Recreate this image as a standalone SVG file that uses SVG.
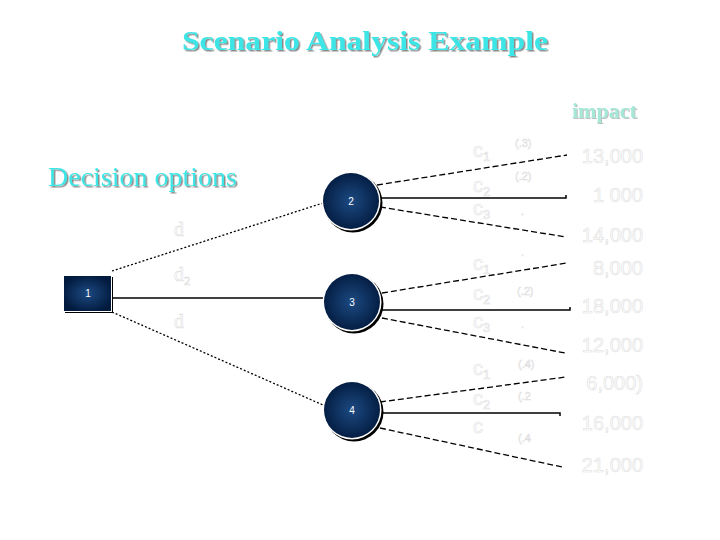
<svg xmlns="http://www.w3.org/2000/svg" width="720" height="540" viewBox="0 0 720 540">
<defs>
<radialGradient id="navy" cx="50%" cy="50%" r="55%">
<stop offset="0" stop-color="#1c4a82"/>
<stop offset="1" stop-color="#021a3e"/>
</radialGradient>
<filter id="shadow" x="-5%" y="-20%" width="110%" height="150%">
<feDropShadow dx="1.5" dy="1.5" stdDeviation="0.3" flood-color="#8a8a8a" flood-opacity="1"/>
</filter>
<filter id="shadowLight" x="-5%" y="-20%" width="110%" height="150%">
<feDropShadow dx="1" dy="1" stdDeviation="0.3" flood-color="#c0c0c0" flood-opacity="1"/>
</filter>
<style>
.ttl{font-family:"Liberation Serif",serif;font-weight:bold}
.cy{fill:#3ee6e6}
.ser{font-family:"Liberation Serif",serif}
.wl{font-family:"Liberation Sans",sans-serif;fill:#ffffff;stroke:#dcdcdc;stroke-width:0.55}
.wd{font-family:"Liberation Serif",serif;fill:#ffffff;stroke:#dcdcdc;stroke-width:0.55}
.nl{font-family:"Liberation Sans",sans-serif;font-size:10px;fill:#ffffff;text-anchor:middle}
.dot{stroke:#000;stroke-width:1.3;fill:none;stroke-dasharray:2 2}
.dash{stroke:#000;stroke-width:1.3;fill:none;stroke-dasharray:6 3}
.sol{stroke:#000;stroke-width:1.5;fill:none}
</style>
</defs>
<rect width="720" height="540" fill="#ffffff"/>

<g id="title">
<text class="ttl cy" x="182" y="50" font-size="27" textLength="366" lengthAdjust="spacingAndGlyphs" filter="url(#shadow)">Scenario Analysis Example</text>
</g>
<g id="impact-label">
<text class="ttl" x="572" y="118" font-size="22" fill="#a5e8d8" filter="url(#shadowLight)">impact</text>
</g>
<g id="decision-label">
<text class="ser cy" x="48" y="186" font-size="28" filter="url(#shadow)">Decision options</text>
</g>

<g id="connectors">
<line class="dot" x1="112" y1="271" x2="323" y2="203"/>
<line class="sol" x1="112" y1="298" x2="323" y2="298"/>
<line class="dot" x1="112" y1="312" x2="323" y2="405"/>
<line class="dash" x1="377" y1="185" x2="567" y2="155"/>
<path class="sol" d="M381,198 H566 V195"/>
<line class="dash" x1="380" y1="207" x2="566" y2="237"/>
<line class="dash" x1="382" y1="293" x2="567" y2="263"/>
<path class="sol" d="M382,310 H570 V307"/>
<line class="dash" x1="382" y1="318" x2="565" y2="353"/>
<line class="dash" x1="380" y1="402" x2="566" y2="377"/>
<path class="sol" d="M382,413 H560 V416"/>
<line class="dash" x1="380" y1="428" x2="562" y2="467"/>
</g>

<g id="node1">
<rect x="65" y="277" width="48" height="36" fill="#000"/>
<rect x="63" y="275" width="49" height="37" fill="#fff"/>
<rect x="64" y="276" width="47" height="35" fill="url(#navy)"/>
<text class="nl" x="88" y="297">1</text>
</g>
<g id="node2">
<circle cx="353" cy="203" r="29.5" fill="#000"/>
<circle cx="351" cy="201" r="29.5" fill="#fff"/>
<circle cx="351" cy="201" r="28" fill="url(#navy)"/>
<text class="nl" x="351" y="205">2</text>
</g>
<g id="node3">
<circle cx="354" cy="304" r="29.5" fill="#000"/>
<circle cx="352" cy="302" r="29.5" fill="#fff"/>
<circle cx="352" cy="302" r="28" fill="url(#navy)"/>
<text class="nl" x="352" y="306">3</text>
</g>
<g id="node4">
<circle cx="354" cy="412" r="29.5" fill="#000"/>
<circle cx="352" cy="410" r="29.5" fill="#fff"/>
<circle cx="352" cy="410" r="28" fill="url(#navy)"/>
<text class="nl" x="352" y="414">4</text>
</g>

<g id="decision-labels">
<text class="wd" x="174" y="236" font-size="20">d</text>
<text class="wd" x="174" y="281" font-size="20">d<tspan font-size="13" dy="4">2</tspan></text>
<text class="wd" x="174" y="328" font-size="20">d</text>
</g>

<g id="outcome-labels">
<text class="wl" x="473" y="157" font-size="20">c<tspan font-size="13" dy="4">1</tspan></text>
<text class="wl" x="473" y="192" font-size="20">c<tspan font-size="13" dy="4">2</tspan></text>
<text class="wl" x="473" y="215" font-size="20">c<tspan font-size="13" dy="4">3</tspan></text>
<text class="wl" x="473" y="270" font-size="20">c<tspan font-size="13" dy="4">1</tspan></text>
<text class="wl" x="473" y="300" font-size="20">c<tspan font-size="13" dy="4">2</tspan></text>
<text class="wl" x="473" y="328" font-size="20">c<tspan font-size="13" dy="4">3</tspan></text>
<text class="wl" x="473" y="375" font-size="20">c<tspan font-size="13" dy="4">1</tspan></text>
<text class="wl" x="473" y="405" font-size="20">c<tspan font-size="13" dy="4">2</tspan></text>
<text class="wl" x="473" y="433" font-size="20">c</text>
</g>

<g id="probabilities">
<text class="wl" x="515" y="147" font-size="11">(.3)</text>
<text class="wl" x="515" y="180" font-size="11">(.2)</text>
<text class="wl" x="521" y="215" font-size="11">.</text>
<text class="wl" x="521" y="256" font-size="11">.</text>
<text class="wl" x="517" y="295" font-size="11">(.2)</text>
<text class="wl" x="521" y="328" font-size="11">.</text>
<text class="wl" x="518" y="368" font-size="11">(.4)</text>
<text class="wl" x="518" y="400" font-size="11">(.2</text>
<text class="wl" x="518" y="442" font-size="11">(.4</text>
</g>

<g id="impacts" text-anchor="end">
<text class="wl" x="643" y="163" font-size="20">13,000</text>
<text class="wl" x="643" y="202" font-size="20">1  000</text>
<text class="wl" x="643" y="242" font-size="20">14,000</text>
<text class="wl" x="643" y="275" font-size="20">8,000</text>
<text class="wl" x="643" y="313" font-size="20">18,000</text>
<text class="wl" x="643" y="352" font-size="20">12,000</text>
<text class="wl" x="643" y="390" font-size="20">6,000)</text>
<text class="wl" x="643" y="430" font-size="20">16,000</text>
<text class="wl" x="643" y="472" font-size="20">21,000</text>
</g>
</svg>
